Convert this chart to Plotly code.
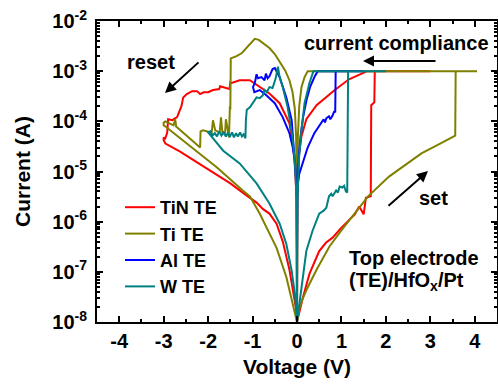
import plotly.graph_objects as go

# ---------------- data (voltage in V, |current| in A) ----------------
tin_v = [0.00, 0.05, 0.13, 0.28, 0.50, 0.65, 0.80, 1.00, 1.17, 1.30, 1.40, 1.50, 1.55, 1.66, 1.67, 1.74, 1.75, 3.00,
         1.58, 1.17, 0.85, 0.44, 0.21, 0.10, 0.04, 0.01, 0.00,
         -0.01, -0.06, -0.17, -0.39, -0.62, -0.84, -1.00, -1.06, -1.29, -1.47, -1.50, -1.52, -1.73, -1.75, -1.89,
         -2.00, -2.10, -2.18, -2.25, -2.36, -2.48, -2.56, -2.60, -2.70, -2.75, -2.80, -2.90, -2.92, -2.97, -3.00,
         -3.00, -2.96, -2.63, -2.20, -1.96, -1.50, -1.13, -0.91, -0.77, -0.62, -0.46, -0.32, -0.17, -0.06, -0.01, 0.00]
tin_i = [1.0e-8, 1.6e-8, 3.0e-8, 9.1e-8, 2.6e-7, 3.8e-7, 4.8e-7, 7.6e-7, 1.05e-6, 1.4e-6, 2.0e-6, 1.4e-6, 3.0e-6, 3.2e-6, 2.1e-4, 2.4e-4, 1e-3, 1e-3,
         1e-3, 6.9e-4, 4.2e-4, 2.1e-4, 1.1e-4, 5.0e-5, 2.0e-5, 3.2e-6, 1.0e-8,
         3.2e-6, 2.0e-5, 9.1e-5, 2.3e-4, 3.6e-4, 4.8e-4, 6.0e-4, 6.6e-4, 6.6e-4, 5.8e-4, 6.0e-4, 4.4e-4, 5.0e-4, 4.4e-4, 4.2e-4,
         3.8e-4, 3.8e-4, 3.5e-4, 4.0e-4, 4.0e-4, 3.5e-4, 3.0e-4, 2.0e-4, 1.2e-4, 1.15e-4, 1.05e-4, 1.1e-4, 6.0e-5, 4.4e-5, 4.8e-5,
         4.2e-5, 3.6e-5, 2.5e-5, 1.45e-5, 1.05e-5, 5.8e-6, 3.3e-6, 2.4e-6, 1.8e-6, 1.45e-6, 9.1e-7, 4.0e-7, 1.1e-7, 3.2e-8, 1.6e-8, 1.0e-8]

ti_v = [0.00, 0.05, 0.12, 0.22, 0.44, 0.73, 1.02, 1.30, 1.60, 2.07, 2.50, 2.80, 3.20, 3.56, 3.57, 4.05, 0.24,
        0.17, 0.10, 0.05, 0.02, 0.005, 0.00,
        -0.005, -0.02, -0.05, -0.10, -0.17, -0.27, -0.39, -0.50, -0.62, -0.77, -0.86, -0.95, -1.02, -1.13, -1.24, -1.36, -1.44, -1.49,
        -1.50, -1.51, -1.53, -1.60, -1.62, -1.68, -1.71, -1.74, -1.84, -1.89, -1.92, -2.12, -2.17, -2.18, -2.72, -2.74, -2.78, -2.96, -3.00,
        -3.00, -2.96, -2.25, -1.80, -1.22, -1.06, -0.84, -0.46, -0.24, -0.10, 0.00]
ti_i = [1.0e-8, 1.8e-8, 2.8e-8, 4.5e-8, 1.1e-7, 3.2e-7, 7.1e-7, 1.5e-6, 3.2e-6, 7.9e-6, 1.5e-5, 2.3e-5, 3.5e-5, 5.2e-5, 1e-3, 1e-3, 1e-3,
        7.6e-4, 4.8e-4, 2.0e-4, 5.0e-5, 3.2e-6, 1.0e-8,
        3.2e-6, 5.0e-5, 1.8e-4, 3.8e-4, 6.6e-4, 1.05e-3, 1.6e-3, 2.2e-3, 2.9e-3, 3.7e-3, 4.2e-3, 4.4e-3, 3.8e-3, 2.9e-3, 2.3e-3, 2.0e-3, 1.9e-3, 1.8e-3,
        1.7e-4, 2.0e-4, 4.8e-5, 1.1e-4, 5.6e-5, 6.0e-5, 1.2e-4, 6.0e-5, 6.6e-5, 1.05e-4, 6.0e-5, 6.6e-5, 6.3e-5, 3.0e-5, 7.9e-5, 1.1e-4, 8.3e-5, 1.0e-4, 9.5e-5,
        8.3e-5, 7.9e-5, 2.5e-5, 1.2e-5, 4.2e-6, 3.2e-6, 1.45e-6, 3.0e-7, 7.9e-8, 2.3e-8, 1.0e-8]

al_v = [0.00, 0.01, 0.05, 0.12, 0.24, 0.39, 0.48, 0.55, 0.60, 0.63, 0.66, 0.72, 0.75, 0.80, 0.84, 0.86, 0.87, 1.50,
        0.47, 0.40, 0.30, 0.22, 0.14, 0.08, 0.04, 0.01, 0.00,
        -0.01, -0.06, -0.12, -0.24, -0.39, -0.50, -0.55, -0.57, -0.62, -0.66, -0.70, -0.73, -0.80, -0.88, -0.91, -0.95, -0.99,
        -0.96, -0.90, -0.84, -0.69, -0.50, -0.32, -0.17, -0.10, -0.04, -0.01, 0.00]
al_i = [2.5e-7, 5.0e-6, 8.9e-6, 1.45e-5, 3.0e-5, 5.8e-5, 7.6e-5, 9.1e-5, 1.1e-4, 9.5e-5, 1.15e-4, 1.26e-4, 1.1e-4, 1.3e-4, 1.6e-4, 1.5e-4, 1e-3, 1e-3,
        1e-3, 7.9e-4, 5.0e-4, 2.8e-4, 1.26e-4, 5.0e-5, 2.0e-5, 5.0e-6, 2.5e-7,
        5.0e-6, 2.3e-5, 1.05e-4, 3.0e-4, 7.6e-4, 1.15e-3, 1.1e-3, 1.0e-3, 7.9e-4, 7.2e-4, 8.9e-4, 6.6e-4, 7.6e-4, 7.2e-4, 8.7e-4, 5.8e-4, 4.8e-4,
        3.8e-4, 4.0e-4, 4.2e-4, 3.3e-4, 2.3e-4, 1.2e-4, 5.8e-5, 3.2e-5, 1.4e-5, 5.0e-6, 2.5e-7]

w_v = [0.00, 0.03, 0.10, 0.21, 0.35, 0.50, 0.60, 0.66, 0.72, 0.77, 0.80, 0.88, 0.92, 0.96, 1.02, 1.06, 1.10, 1.13, 1.15, 2.00,
       0.37, 0.28, 0.17, 0.10, 0.04, 0.01, 0.00,
       -0.01, -0.04, -0.10, -0.21, -0.32, -0.39, -0.43, -0.48, -0.55, -0.62, -0.68, -0.73, -0.77, -0.84, -0.91, -0.99, -1.06, -1.13,
       -1.15, -1.16, -1.20, -1.24, -1.28, -1.33, -1.37, -1.42, -1.46, -1.51, -1.56, -1.60, -1.65, -1.70, -1.75, -1.80, -1.85, -1.90, -1.95, -2.00,
       -1.66, -1.29, -0.91, -0.62, -0.39, -0.24, -0.12, -0.04, 0.00]
w_i = [1.0e-8, 1.6e-8, 5.8e-8, 2.6e-7, 6.6e-7, 1.45e-6, 1.66e-6, 1.9e-6, 3.2e-6, 3.6e-6, 3.2e-6, 4.2e-6, 3.8e-6, 5.0e-6, 4.8e-6, 5.2e-6, 4.0e-6, 3.8e-6, 1e-3, 1e-3,
       1e-3, 5.8e-4, 2.3e-4, 6.6e-5, 1.6e-5, 2.5e-6, 1.0e-8,
       2.5e-6, 1.26e-5, 4.8e-5, 1.9e-4, 4.8e-4, 7.6e-4, 1.23e-3, 7.2e-4, 4.6e-4, 4.8e-4, 3.8e-4, 4.2e-4, 3.3e-4, 2.9e-4, 3.0e-4, 2.4e-4, 1.9e-4, 1.7e-4,
       1.05e-4, 4.6e-5, 5.5e-5, 5.0e-5, 6.0e-5, 5.0e-5, 5.8e-5, 4.8e-5, 6.0e-5, 5.0e-5, 5.8e-5, 5.0e-5, 6.0e-5, 5.2e-5, 6.3e-5, 5.0e-5, 5.8e-5, 5.2e-5, 6.3e-5, 6.0e-5,
       2.6e-5, 1.45e-5, 5.8e-6, 2.3e-6, 9.1e-7, 3.6e-7, 1.05e-7, 3.2e-8, 1.0e-8]

series_names = ["TiN TE", "Ti TE", "Al TE", "W TE"]
series_colors = ["#ff0000", "#808000", "#0000ff", "#008080"]

x_ticks = [-4, -3, -2, -1, 0, 1, 2, 3, 4]
x_minor = [-4.5, -3.5, -2.5, -1.5, -0.5, 0.5, 1.5, 2.5, 3.5, 4.5]
y_exps = [-8, -7, -6, -5, -4, -3, -2]

# ---------------- figure ----------------
W, H = 498, 388
L, R, T, B = 97, 1, 21, 66
PW, PH = W - L - R, H - T - B


def px(x):
    return (x - L) / PW


def py(y):
    return (H - B - y) / PH


FONT = "Liberation Sans, Arial, sans-serif"

fig = go.Figure()
data = [(tin_v, tin_i), (ti_v, ti_i), (al_v, al_i), (w_v, w_i)]
for (v, i), name, col in zip(data, series_names, series_colors):
    assert len(v) == len(i), name
    fig.add_trace(go.Scatter(x=v, y=i, mode="lines", name=name,
                             line=dict(color=col, width=2)))

y_tickvals = [10.0 ** e for e in y_exps]
y_ticktext = ["10<sup>%d</sup>" % e for e in y_exps]
y_minor = [m * 10.0 ** e for e in y_exps[:-1] for m in range(2, 10)]

axis_common = dict(showline=True, linecolor="black", linewidth=2, mirror="allticks",
                   ticks="inside", tickcolor="black", tickwidth=2, ticklen=6,
                   showgrid=False, zeroline=False, automargin=False,
                   tickfont=dict(family=FONT, size=20, color="black", weight="bold"))

fig.update_xaxes(range=[-4.5, 4.5], tickvals=x_ticks, ticktext=[str(t) for t in x_ticks],
                 minor=dict(tickvals=x_minor, ticks="inside", ticklen=3, tickcolor="black", tickwidth=1.5),
                 title=dict(text="Voltage (V)", standoff=8,
                            font=dict(family=FONT, size=21, color="black", weight="bold")),
                 **axis_common)
fig.update_yaxes(type="log", range=[-8, -2], tickvals=y_tickvals, ticktext=y_ticktext,
                 minor=dict(tickvals=y_minor, ticks="inside", ticklen=3, tickcolor="black", tickwidth=1.5),
                 title=dict(text="Current (A)", standoff=16,
                            font=dict(family=FONT, size=21, color="black", weight="bold")),
                 ticklabelstandoff=4,
                 **axis_common)

tfont = dict(family=FONT, size=20, color="black", weight="bold")
ann = [
    dict(x=px(151), y=py(62), text="reset", showarrow=False),
    dict(x=px(396), y=py(43), text="current compliance", showarrow=False),
    dict(x=px(433), y=py(198), text="set", showarrow=False),
    dict(x=px(347), y=py(258), text="Top electrode", showarrow=False, xanchor="left"),
    dict(x=px(347), y=py(281), text="(TE)/HfO<sub>x</sub>/Pt", showarrow=False, xanchor="left"),
]
for a in ann:
    a.setdefault("xanchor", "center")
    a.setdefault("yanchor", "middle")
arrows = [((200, 61), (165, 93)), ((437, 61), (363, 61)), ((387, 207), (428, 171))]
for (tx, ty), (hx, hy) in arrows:
    ann.append(dict(x=px(hx), y=py(hy), ax=tx - hx, ay=ty - hy,
                    text="", showarrow=True, arrowhead=2, arrowsize=1.1, arrowwidth=2,
                    arrowcolor="black", standoff=0, startstandoff=0))
for a in ann:
    a["xref"] = "paper"
    a["yref"] = "paper"
    a["font"] = tfont
    fig.add_annotation(**a)

fig.update_layout(width=W, height=H, margin=dict(l=L, r=R, t=T, b=B, autoexpand=False),
                  plot_bgcolor="white", paper_bgcolor="white",
                  showlegend=True,
                  legend=dict(x=px(120), y=py(189), xanchor="left", yanchor="top",
                              bgcolor="rgba(0,0,0,0)", font=dict(family=FONT, size=18, color="black", weight="bold"),
                              tracegroupgap=0, itemwidth=30))

fig.write_html("out.html", config={"displayModeBar": False},
               post_script="document.body.style.margin='0px';document.body.style.padding='0px';")
